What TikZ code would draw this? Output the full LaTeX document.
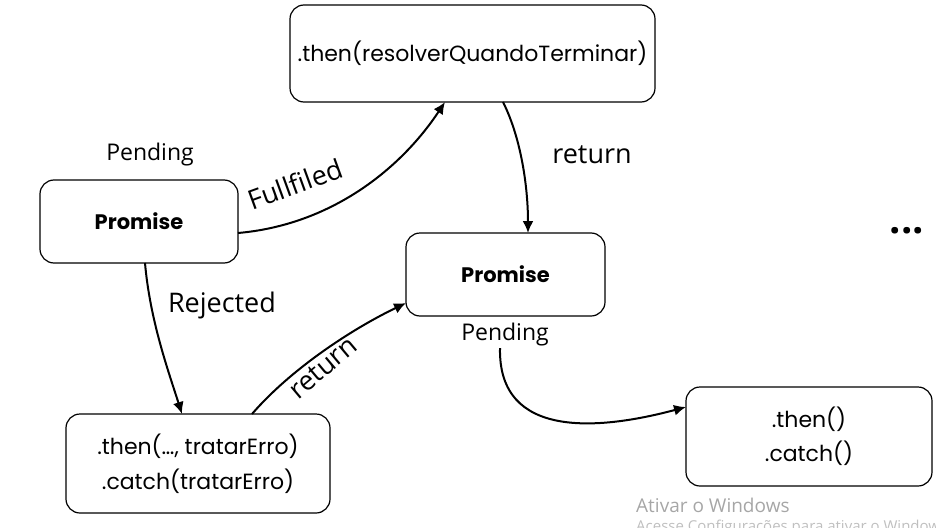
\documentclass[tikz,border=0pt]{standalone}
\usepackage{fontspec}
\setmainfont{Open Sans}
\newfontfamily\boxfont{Poppins}
\usetikzlibrary{arrows.meta}
\begin{document}
\begin{tikzpicture}[x=1pt,y=-1pt,
  box/.style={draw=black,line width=1.2pt,rounded corners=14pt,fill=white,inner sep=0pt,font=\boxfont\fontsize{22}{27}\selectfont,align=center},
  lbl/.style={font=\fontsize{27}{30}\selectfont,inner sep=1pt},
  conn/.style={line width=2pt,-{Latex[length=12pt,width=11pt]}}]
\useasboundingbox (0,0) rectangle (936,527);
\node[box,minimum width=365pt,minimum height=97pt] (top) at (472.5,53.5) {.then(resolverQuandoTerminar)};
\node[box,minimum width=198pt,minimum height=83pt] (p1) at (139,221.5) {\fontsize{21}{24}\selectfont\textbf{Promise}};
\node[box,minimum width=199pt,minimum height=83pt] (p2) at (505.5,274.5) {\fontsize{21}{24}\selectfont\textbf{Promise}};
\node[box,minimum width=264pt,minimum height=99pt] (c1) at (198,463.5) {\raisebox{-4pt}{.then(…, tratarErro)}\\[8pt]\raisebox{-4pt}{.catch(tratarErro)}};
\node[box,minimum width=246pt,minimum height=99pt] (c2) at (809,436.5) {.then()\\[7pt].catch()};
\node[lbl,font=\fontsize{23}{26}\selectfont] (pend1) at (150,155) {Pending};
\node[lbl,font=\fontsize{23}{26}\selectfont] (pend2) at (505,335) {Pending};
\node[lbl,rotate=20] (ful) at (295,184) {Fullfiled};
\node[lbl] (ret1) at (592,155) {return};
\node[lbl] (rej) at (222,305) {Rejected};
\node[lbl,rotate=40] (ret2) at (323,368) {return};
\node[font=\fontsize{40}{40}\selectfont\bfseries] (dots) at (907,231) {...};
\node[font=\fontsize{19}{21}\selectfont,text=black!35,anchor=west,inner sep=0pt] (win) at (636,505) {Ativar o Windows};
\node[font=\fontsize{15}{17}\selectfont,text=black!25,anchor=west,inner sep=0pt] (win2) at (636,528) {Acesse Configurações para ativar o Windows.};
\coordinate (a1s) at (238,233);
\coordinate (a1e) at (445,102);
\draw[conn] (a1s) .. controls (330,225) and (400,170) .. (a1e);
\coordinate (a2s) at (503,102);
\coordinate (a2e) at (528,233);
\draw[conn] (a2s) .. controls (522,140) and (528,190) .. (a2e);
\coordinate (a3s) at (145,263);
\coordinate (a3e) at (182,414);
\draw[conn] (a3s) .. controls (150,320) and (168,370) .. (a3e);
\coordinate (a4s) at (252,414);
\coordinate (a4e) at (406,303);
\draw[conn] (a4s) .. controls (290,370) and (350,330) .. (a4e);
\coordinate (a5s) at (500,348);
\coordinate (a5e) at (686,407);
\draw[conn] (a5s) .. controls (498,440) and (600,430) .. (a5e);
\end{tikzpicture}
\end{document}
